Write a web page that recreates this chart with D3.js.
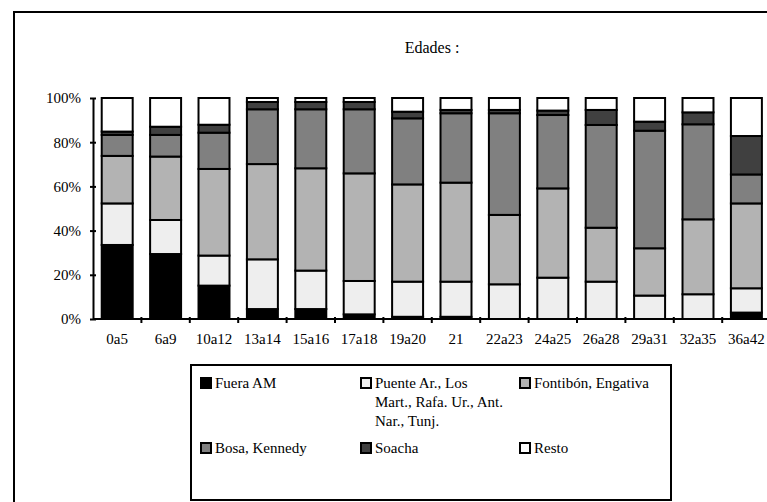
<!DOCTYPE html>
<html><head><meta charset="utf-8">
<script src="https://cdn.jsdelivr.net/npm/d3@7"></script>
<style>html,body{margin:0;padding:0;background:#fff;overflow:hidden}
svg text{font-family:"Liberation Serif","DejaVu Serif","Times New Roman",Times,serif;}</style>
</head><body><svg id="c" width="767" height="502"></svg>
<script>
const categories = ["0a5","6a9","10a12","13a14","15a16","17a18","19a20","21","22a23","24a25","26a28","29a31","32a35","36a42"];
const seriesNames = ["Fuera AM","Puente Ar., Los Mart., Rafa. Ur., Ant. Nar., Tunj.","Fontibón, Engativa","Bosa, Kennedy","Soacha","Resto"];
const fueraAM  = [33.5,29.4,15.1,4.5,4.5,2.1,1.0,1.0,0,0,0,0,0,2.9];
const puente   = [18.8,15.4,13.6,22.5,17.4,15.1,15.9,15.9,15.7,18.7,16.9,10.6,11.2,11.0];
const fontibon = [21.5,28.7,39.2,43.1,46.3,48.7,44.0,44.8,31.4,40.4,24.4,21.4,33.9,38.4];
const bosa     = [9.5,9.8,16.4,24.8,26.7,29.0,29.9,31.4,46.0,33.2,46.5,53.2,43.0,13.1];
const soacha   = [1.5,3.7,3.6,3.3,3.3,3.3,3.0,1.5,1.5,2.0,6.8,4.1,5.4,17.4];
const resto    = [15.2,13.0,12.1,1.8,1.8,1.8,6.2,5.4,5.4,5.7,5.4,10.7,6.5,17.2];
const yTicks = [0,20,40,60,80,100];
const colors = ["#000000","#eeeeee","#b3b3b3","#808080","#404040","#ffffff"];

const seriesArrays = [fueraAM,puente,fontibon,bosa,soacha,resto];
const rows = categories.map((c,i)=>{const o={cat:c}; seriesNames.forEach((s,j)=>o[s]=seriesArrays[j][i]); return o;});
const stack = d3.stack().keys(seriesNames).offset(d3.stackOffsetExpand)(rows);

const svg = d3.select("#c");
const fs = 15;

// outer frame
svg.append("rect").attr("x",14).attr("y",12).attr("width",900).attr("height",700)
  .attr("fill","#fff").attr("stroke","#000").attr("stroke-width",2);

svg.append("text").attr("x",432).attr("y",53).attr("text-anchor","middle")
  .attr("font-size",16).text("Edades :");

const x0 = 93, bandStep = 48.4;
const x = d3.scaleBand().domain(categories).range([x0, x0+bandStep*categories.length]).paddingInner(0.36).paddingOuter(0.18);
const y = d3.scaleLinear().domain([0,1]).range([319,98]);

const g = svg.append("g");
g.selectAll("g.s").data(stack).join("g").attr("class","s")
  .attr("fill",(d,i)=>colors[i])
  .selectAll("rect").data(d=>d).join("rect")
  .attr("x",d=>x(d.data.cat)).attr("width",x.bandwidth())
  .attr("y",d=>y(d[1])).attr("height",d=>Math.max(0,y(d[0])-y(d[1])))
  .attr("stroke","#000").attr("stroke-width",2);

// y axis
const yAxis = d3.axisLeft(y).tickValues(yTicks.map(v=>v/100)).tickFormat((d,i)=>yTicks[i]+"%").tickSizeInner(0).tickSizeOuter(0).tickPadding(12);
const ya = svg.append("g").attr("transform",`translate(${x0},0)`).call(yAxis);
ya.attr("font-family",null).attr("font-size",null);
ya.select(".domain").attr("stroke","#000").attr("stroke-width",2);
ya.selectAll("text").attr("font-size",fs).attr("fill","#000");
ya.selectAll(".tick").append("line").attr("x1",-3).attr("x2",3).attr("stroke","#000").attr("stroke-width",2);

// x axis
const xAxis = d3.axisBottom(x).tickSize(0).tickPadding(14);
const xa = svg.append("g").attr("transform","translate(0,319)").call(xAxis);
xa.attr("font-family",null).attr("font-size",null);
xa.select(".domain").remove();
xa.selectAll("text").attr("font-size",fs).attr("fill","#000");
xa.append("line").attr("x1",x0).attr("x2",x0+bandStep*categories.length).attr("stroke","#000").attr("stroke-width",2);
xa.selectAll("line.sep").data(categories.slice(1)).join("line").attr("class","sep")
  .attr("x1",(d)=>x(d)-x.step()*x.paddingInner()/2).attr("x2",(d)=>x(d)-x.step()*x.paddingInner()/2)
  .attr("y1",-2).attr("y2",4).attr("stroke","#000").attr("stroke-width",2);

// legend
svg.append("rect").attr("x",191).attr("y",365).attr("width",480).attr("height",135)
  .attr("fill","#fff").attr("stroke","#000").attr("stroke-width",2);
const legendPos = [[200,383],[360,383],[519,383],[200,448],[360,448],[519,448]];
const legendLines = [["Fuera AM"],["Puente Ar., Los","Mart., Rafa. Ur., Ant.","Nar., Tunj."],["Fontibón, Engativa"],["Bosa, Kennedy"],["Soacha"],["Resto"]];
const lg = svg.append("g").selectAll("g").data(seriesNames).join("g")
  .attr("transform",(d,i)=>`translate(${legendPos[i][0]},${legendPos[i][1]})`);
lg.append("rect").attr("x",1).attr("y",-5).attr("width",10).attr("height",10)
  .attr("fill",(d,i)=>colors[i]).attr("stroke","#000").attr("stroke-width",2);
lg.append("text").attr("x",15).attr("y",5).attr("font-size",fs)
  .selectAll("tspan").data((d,i)=>legendLines[i]).join("tspan")
  .attr("x",15).attr("dy",(d,j)=>j===0?0:19).text(d=>d);
</script></body></html>
